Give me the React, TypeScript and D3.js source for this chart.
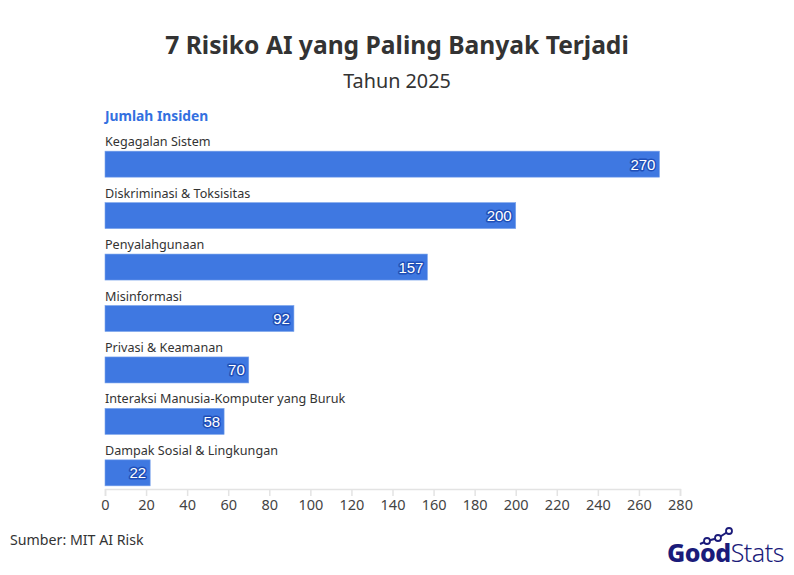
import React, { useEffect, useRef } from 'react'
import * as d3 from 'd3'

const categories = [
  'Kegagalan Sistem',
  'Diskriminasi & Toksisitas',
  'Penyalahgunaan',
  'Misinformasi',
  'Privasi & Keamanan',
  'Interaksi Manusia-Komputer yang Buruk',
  'Dampak Sosial & Lingkungan',
]
const values = [270, 200, 157, 92, 70, 58, 22]
const ticks = [0, 20, 40, 60, 80, 100, 120, 140, 160, 180, 200, 220, 240, 260, 280]

const W = 794
const H = 575
const FONT = '"Noto Sans", "Open Sans", sans-serif'

const App = () => {
  const ref = useRef<SVGSVGElement>(null)

  useEffect(() => {
    const svg = d3.select(ref.current)
    svg.selectAll('*').remove()

    svg.append('rect').attr('width', W).attr('height', H).attr('fill', '#fff')

    // title
    svg.append('text').attr('x', 397).attr('y', 54).attr('text-anchor', 'middle')
      .attr('font-family', FONT).attr('font-weight', 700).attr('font-size', 24.6).attr('fill', '#333')
      .text('7 Risiko AI yang Paling Banyak Terjadi')
    svg.append('text').attr('x', 397).attr('y', 88).attr('text-anchor', 'middle')
      .attr('font-family', FONT).attr('font-size', 19.8).attr('fill', '#333')
      .text('Tahun 2025')

    svg.append('text').attr('x', 105).attr('y', 121)
      .attr('font-family', FONT).attr('font-weight', 700).attr('font-size', 13.8).attr('fill', '#3370e0')
      .text('Jumlah Insiden')

    const x = d3.scaleLinear().domain([0, 280]).range([105, 680])
    const y = d3.scaleBand().domain(categories).range([134, 489]).paddingInner(0.5).paddingOuter(0.2)
    const bh = 26
    const barTop = (c: string) => (y(c) || 0) + y.bandwidth() / 2 - bh / 2 + 7

    const g = svg.append('g')
    const rows = g.selectAll('g.row').data(categories).enter().append('g').attr('class', 'row')

    rows.append('text').attr('x', 105).attr('y', (c) => barTop(c) - 5)
      .attr('font-family', FONT).attr('font-size', 12.6).attr('fill', '#333')
      .text((c) => c)

    rows.append('rect').attr('x', x(0)).attr('y', (c) => barTop(c))
      .attr('width', (c, i) => x(values[i]) - x(0)).attr('height', bh)
      .attr('fill', '#3f78e1').attr('stroke', '#7aa3ec').attr('stroke-width', 0.6)

    rows.append('text').attr('x', (c, i) => x(values[i]) - 4).attr('y', (c) => barTop(c) + bh / 2 + 5.5)
      .attr('text-anchor', 'end').attr('font-family', '"Liberation Sans", Arial, sans-serif').attr('font-size', 15)
      .attr('fill', '#fff').attr('stroke', '#1f4fb8').attr('stroke-width', 3)
      .attr('paint-order', 'stroke').attr('stroke-linejoin', 'round')
      .text((c, i) => values[i])

    // axis
    const axis = svg.append('g').attr('transform', 'translate(0,489)')
      .call(d3.axisBottom(x).tickValues(ticks).tickSize(7).tickPadding(4))
    axis.select('.domain').attr('stroke', '#e3e3e3').attr('stroke-width', 1.5)
    axis.selectAll('.tick line').attr('stroke', '#e3e3e3').attr('stroke-width', 1.5)
    axis.selectAll('.tick text').attr('font-family', FONT).attr('font-size', 14.5).attr('fill', '#444')

    svg.append('text').attr('x', 10).attr('y', 545)
      .attr('font-family', FONT).attr('font-size', 14.2).attr('fill', '#333')
      .text('Sumber: MIT AI Risk')

    // logo
    const logo = svg.append('g').attr('transform', 'translate(667,562)')
    logo.append('text').attr('x', 0).attr('y', 0)
      .attr('font-family', FONT).attr('font-size', 25).attr('fill', '#1b1b7a')
      .attr('letter-spacing', -0.5)
      .call((t) => {
        t.append('tspan').attr('font-weight', 800).text('Good')
        t.append('tspan').attr('font-weight', 300).text('Stats')
      })
    const pts: [number, number][] = [[33, -18], [40, -21], [51, -24], [62, -31]]
    logo.append('path').attr('d', d3.line()(pts) || '').attr('fill', 'none')
      .attr('stroke', '#1b1b7a').attr('stroke-width', 2)
    logo.selectAll('circle').data(pts.slice(1)).enter().append('circle')
      .attr('cx', (d) => d[0]).attr('cy', (d) => d[1]).attr('r', 3)
      .attr('fill', '#fff').attr('stroke', '#1b1b7a').attr('stroke-width', 1.8)
  }, [])

  return <svg ref={ref} width={W} height={H} style={{ display: 'block', margin: -8 }} />
}

export default App
